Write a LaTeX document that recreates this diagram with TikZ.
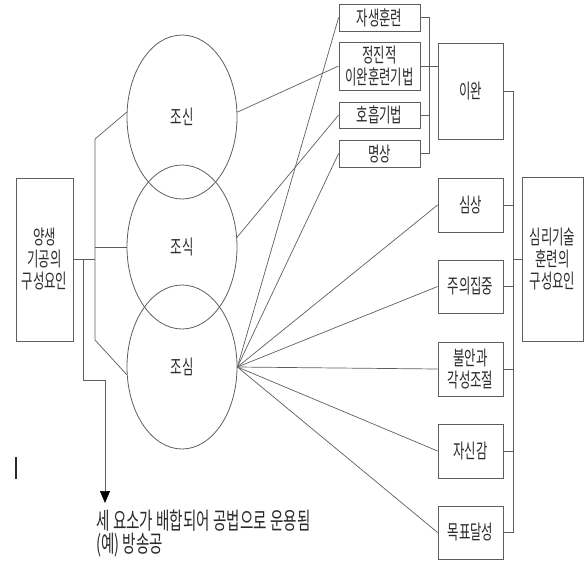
\documentclass[tikz,border=0pt]{standalone}
\usepackage{fontspec}
\usepackage{tikz}
\usetikzlibrary{positioning, arrows.meta, shapes.geometric}
\newfontfamily\kfont[FakeStretch=0.62]{Noto Sans CJK KR}
\definecolor{dInk}{HTML}{2B2B2B}
\definecolor{dLine}{HTML}{5E5E5E}

\begin{document}
\begin{tikzpicture}[x=1pt, y=-1pt,
        kbox/.style={draw=dLine, line width=0.8pt, inner sep=0pt, align=center, text=dInk,
          font=\kfont\fontsize{20}{22}\selectfont},
        oval/.style={ellipse, draw=dLine, line width=0.8pt, minimum width=110pt, minimum height=164pt,
          text=dInk, font=\kfont\fontsize{20}{22}\selectfont},
        lnk/.style={draw=dLine, line width=0.7pt}]
      \useasboundingbox (0,0) rectangle (584,563);
      % left part
      \node[kbox, minimum width=57pt, minimum height=163pt] (yangsaeng) at (44.5,259.5) {양생\\기공의\\구성요인};
      \node[oval] (josin) at (182,117) {조신};
      \node[oval] (josik) at (182,247) {조식};
      \node[oval] (josim) at (182,367) {조심};
      % relaxation techniques
      \node[kbox, minimum width=81pt, minimum height=27pt] (jasaeng) at (379.5,17.5) {자생훈련};
      \node[kbox, minimum width=81pt, minimum height=48pt] (jeongjin) at (379.5,66) {정진적\\이완훈련기법};
      \node[kbox, minimum width=81pt, minimum height=26pt] (hoheup) at (379.5,115) {호흡기법};
      \node[kbox, minimum width=81pt, minimum height=27pt] (myeongsang) at (379.5,153.5) {명상};
      % skill boxes
      \node[kbox, minimum width=65pt, minimum height=96pt] (iwan) at (470.5,91) {이완};
      \node[kbox, minimum width=65pt, minimum height=54pt] (simsang) at (470.5,205) {심상};
      \node[kbox, minimum width=65pt, minimum height=53pt] (jujip) at (470.5,286.5) {주의집중};
      \node[kbox, minimum width=65pt, minimum height=54pt] (buran) at (470.5,369) {불안과\\각성조절};
      \node[kbox, minimum width=65pt, minimum height=54pt] (jasin) at (470.5,451) {자신감};
      \node[kbox, minimum width=65pt, minimum height=53pt] (mokpyo) at (470.5,532.5) {목표달성};
      \node[kbox, minimum width=61pt, minimum height=164pt] (simri) at (552.5,259) {심리기술\\훈련의\\구성요인};
      \node[kbox, draw=none, align=left, anchor=north west, font=\kfont\fontsize{23.5}{23}\selectfont]
        (note) at (96,509) {세 요소가 배합되어 공법으로 운용됨\\(예) 방송공};

      \coordinate (trunk) at (95,0);
      \coordinate (tTop) at (95,139);
      \coordinate (tBot) at (95,340);
      \coordinate (branch) at (83,259);
      \coordinate (arr) at (105,503);
      \coordinate (lb) at (429,0);
      \coordinate (rb) at (513,0);

      \draw[lnk] (yangsaeng.east) -- (yangsaeng.east -| trunk);
      \draw[lnk] (josin.175) -- (tTop) -- (tBot) -- (josim.188);
      \draw[lnk] (josik.west) -- (josik.west -| trunk);
      \draw[lnk, -{Triangle[width=10pt,length=12pt,color=black]}] (branch) -- ++(0,121) -| (arr);

      \draw[lnk] (josin.5) -- (jeongjin.west);
      \draw[lnk] (josik.10) -- (hoheup.west);
      \foreach \n in {jasaeng, myeongsang, simsang, jujip, buran, jasin, mokpyo}
        \draw[lnk] (josim.east) -- (\n.west);

      \draw[lnk] (jasaeng.east) -- (jasaeng.east -| lb) -- (myeongsang.east -| lb) -- (myeongsang.east);
      \draw[lnk] (hoheup.east) -- (hoheup.east -| lb);
      \draw[lnk] (jeongjin.east) -- (jeongjin.east -| iwan.west);

      \draw[lnk] (iwan.east) -- (iwan.east -| rb) -- (mokpyo.east -| rb) -- (mokpyo.east);
      \foreach \n in {simsang, jujip, buran, jasin}
        \draw[lnk] (\n.east) -- (\n.east -| rb);
      \draw[lnk] (simri.west) -- (simri.west -| rb);

      \draw[dInk, line width=1.2pt] (16,457) -- (16,479);
    \end{tikzpicture}
\end{document}
